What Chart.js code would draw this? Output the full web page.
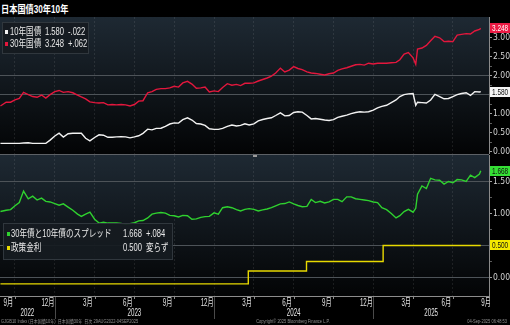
<!DOCTYPE html>
<html lang="ja">
<head>
<meta charset="utf-8">
<title>日本国債30年10年</title>
<script src="https://cdn.jsdelivr.net/npm/chart.js@4.4.1/dist/chart.umd.min.js"></script>
<style>
  html, body { margin: 0; padding: 0; background: #000; }
  body { position: relative; width: 510px; height: 325px; overflow: hidden;
         font-family: "Liberation Sans", "Noto Sans CJK JP", sans-serif; color: #e8e8e8; }
  canvas { position: absolute; left: 0; }
  #top { top: 17px; }
  #bottom { top: 155px; }
  #title { position: absolute; left: 1px; top: 1px; font-size: 10.5px; font-weight: bold;
           color: #fff; white-space: nowrap; transform: scaleX(0.78); transform-origin: 0 0; }
  .sep { position: absolute; left: 0; top: 154px; width: 489px; height: 1px; background: #5d6166; }
  .grip { position: absolute; left: 253px; top: 155px; width: 4px; height: 2px; background: #9a9a9a; }
  .box { position: absolute; background: rgba(22, 27, 32, 0.93); border: 1px solid #30373d; }
  .t { position: absolute; font-size: 10px; line-height: 12px; white-space: nowrap;
       transform: scaleX(0.76); transform-origin: 0 50%; }
  .mk { position: absolute; width: 3px; height: 4px; }
</style>
</head>
<body>
<div id="title">日本国債30年10年</div>
<canvas id="top" width="510" height="137"></canvas>
<div class="sep"></div>
<canvas id="bottom" width="510" height="170"></canvas>
<div class="grip"></div>
<div id="legends"></div>
<script>
// sample dates (about every 10 days)
const dates = [
  '2022-08-29','2022-09-11','2022-09-21', '2022-10-01','2022-10-11','2022-10-21',
  '2022-11-01','2022-11-11','2022-11-21', '2022-12-01','2022-12-11','2022-12-21',
  '2023-01-01','2023-01-11','2023-01-21', '2023-02-01','2023-02-11','2023-02-21',
  '2023-03-01','2023-03-11','2023-03-21', '2023-04-01','2023-04-11','2023-04-21',
  '2023-05-01','2023-05-11','2023-05-21', '2023-06-01','2023-06-11','2023-06-21',
  '2023-07-01','2023-07-11','2023-07-21', '2023-08-01','2023-08-11','2023-08-21',
  '2023-09-01','2023-09-11','2023-09-21', '2023-10-01','2023-10-11','2023-10-21',
  '2023-11-01','2023-11-11','2023-11-21', '2023-12-01','2023-12-11','2023-12-21',
  '2024-01-01','2024-01-11','2024-01-21', '2024-02-01','2024-02-11','2024-02-21',
  '2024-03-01','2024-03-11','2024-03-21', '2024-04-01','2024-04-11','2024-04-21',
  '2024-05-01','2024-05-11','2024-05-21', '2024-06-01','2024-06-11','2024-06-21',
  '2024-07-01','2024-07-11','2024-07-21', '2024-08-01','2024-08-11','2024-08-21',
  '2024-09-01','2024-09-11','2024-09-21', '2024-10-01','2024-10-11','2024-10-21',
  '2024-11-01','2024-11-11','2024-11-21', '2024-12-01','2024-12-11','2024-12-21',
  '2025-01-01','2025-01-11','2025-01-21', '2025-02-01','2025-02-11','2025-02-21',
  '2025-03-01','2025-03-11','2025-03-21', '2025-04-01','2025-04-07','2025-04-11','2025-04-21',
  '2025-05-01','2025-05-11','2025-05-21', '2025-06-01','2025-06-11','2025-06-21',
  '2025-07-01','2025-07-11','2025-07-21', '2025-08-01','2025-08-11','2025-08-21',
  '2025-09-01','2025-09-04'
];

// 10年国債 yield (%)
const jgb10 = [
  0.215, 0.215, 0.215, 0.215, 0.215, 0.225,
  0.230, 0.215, 0.215, 0.215, 0.215, 0.300,
  0.410, 0.485, 0.380, 0.470, 0.480, 0.480,
  0.480, 0.350, 0.280, 0.370, 0.440, 0.430,
  0.375, 0.375, 0.385, 0.390, 0.385, 0.360,
  0.385, 0.415, 0.480, 0.590, 0.570, 0.610,
  0.615, 0.665, 0.725, 0.755, 0.750, 0.840,
  0.890, 0.830, 0.740, 0.726, 0.690, 0.600,
  0.585, 0.585, 0.610, 0.665, 0.700, 0.675,
  0.690, 0.730, 0.700, 0.730, 0.810, 0.845,
  0.870, 0.890, 0.950, 1.020, 0.940, 0.950,
  1.030, 1.050, 1.040, 0.950, 0.860, 0.870,
  0.850, 0.830, 0.820, 0.840, 0.900, 0.930,
  0.960, 1.000, 1.030, 1.050, 1.040, 1.050,
  1.090, 1.150, 1.190, 1.220, 1.290, 1.360,
  1.450, 1.500, 1.520, 1.530, 1.220, 1.300, 1.290,
  1.280, 1.360, 1.510, 1.450, 1.390, 1.400,
  1.450, 1.500, 1.530, 1.550, 1.480, 1.580,
  1.570, 1.580
];

// 30年国債 yield (%)
const jgb30 = [
  1.20, 1.30, 1.30, 1.36, 1.40, 1.56,
  1.50, 1.45, 1.43, 1.49, 1.41, 1.50,
  1.58, 1.61, 1.56, 1.58, 1.55, 1.49,
  1.44, 1.39, 1.31, 1.29, 1.28, 1.29,
  1.23, 1.24, 1.23, 1.24, 1.23, 1.20,
  1.24, 1.33, 1.34, 1.55, 1.58, 1.64,
  1.66, 1.66, 1.68, 1.72, 1.70, 1.81,
  1.85, 1.78, 1.67, 1.68, 1.70, 1.57,
  1.60, 1.58, 1.69, 1.79, 1.75, 1.77,
  1.74, 1.80, 1.80, 1.81, 1.86, 1.90,
  1.94, 1.99, 2.07, 2.20, 2.10, 2.15,
  2.24, 2.19, 2.16, 2.10, 2.07, 2.06,
  2.04, 2.02, 2.05, 2.07, 2.14, 2.18,
  2.21, 2.25, 2.29, 2.30, 2.28, 2.33,
  2.31, 2.33, 2.33, 2.33, 2.34, 2.35,
  2.42, 2.57, 2.61, 2.47, 2.30, 2.70, 2.73,
  2.80, 2.92, 3.04, 3.00, 2.90, 2.91,
  2.90, 3.07, 3.09, 3.11, 3.10, 3.18,
  3.22, 3.248
];

// 30年債と10年債のスプレッド (%)
const spread = [
  1.03, 1.05, 1.06, 1.12, 1.17, 1.35,
  1.23, 1.27, 1.21, 1.24, 1.19, 1.18,
  1.155, 1.13, 1.15, 1.10, 1.05, 0.99,
  0.955, 0.99, 1.02, 0.91, 0.85, 0.865,
  0.85, 0.85, 0.85, 0.845, 0.83, 0.84,
  0.855, 0.885, 0.89, 0.93, 0.99, 1.005,
  1.015, 1.005, 0.97, 0.965, 0.945, 0.97,
  0.965, 0.91, 0.915, 0.94, 0.95, 0.955,
  1.01, 0.99, 1.09, 1.105, 1.09, 1.06,
  1.04, 1.065, 1.075, 1.065, 1.04, 1.057,
  1.07, 1.09, 1.12, 1.15, 1.155, 1.18,
  1.15, 1.125, 1.105, 1.11, 1.22, 1.17,
  1.19, 1.165, 1.18, 1.22, 1.22, 1.185,
  1.26, 1.26, 1.23, 1.22, 1.21, 1.20,
  1.18, 1.17, 1.09, 1.06, 1.00, 0.93,
  0.965, 1.03, 1.065, 1.02, 1.08, 1.30, 1.43,
  1.39, 1.55, 1.525, 1.52, 1.46, 1.50,
  1.48, 1.53, 1.525, 1.50, 1.60, 1.56,
  1.615, 1.668
];

// 政策金利: value in force from each date
const policyDates = ['2022-08-29', '2024-03-19', '2024-07-31', '2025-01-24', '2025-09-04'];
const policyRate = [-0.1, 0.1, 0.25, 0.5, 0.5];

// axis labels
const tickMonths = ['2022-09', '2022-12', '2023-03', '2023-06', '2023-09', '2023-12', '2024-03',
                    '2024-06', '2024-09', '2024-12', '2025-03', '2025-06', '2025-09'];
const years = ['2022', '2023', '2024', '2025'];
const yTicksTop = [0, 0.5, 1, 1.5, 2, 2.5, 3];
const yTicksBottom = [0, 0.5, 1, 1.5];
const gridTop = [1.5, 2];
const gridBottom = [0, 0.5, 1.5];

// day changes shown in the legends
const chg10 = '-.022', chg30 = '+.062', chgSpread = '+.084', chgPolicy = '変らず';

const WHITE = '#f2f2f2', RED = '#e3173d', GREEN = '#2fd12f', YELLOW = '#e8d900';
const GRID = '#4d5358';
const NARROW = '"Liberation Sans Narrow", "DejaVu Sans Condensed", "Liberation Sans", sans-serif';
const X_MIN = -0.13, X_MAX = 36.72;

// months since 2022-09-01
function monthPos(s) {
  const [y, m, d] = s.split('-').map(Number);
  const days = new Date(y, m, 0).getDate();
  return (y - 2022) * 12 + (m - 9) + ((d || 1) - 1) / days;
}

const points = (xs, ys) => xs.map((d, i) => ({ x: monthPos(d), y: ys[i] }));

// vertical grid at the start of Oct / Jan / Apr / Jul
const gridMonths = tickMonths.map(t => monthPos(t + '-01') + 1).filter(v => v < X_MAX);
const yearStarts = years.slice(1).map(y => monthPos(y + '-01-01'));

function narrowText(ctx, text, x, y, font, sx) {
  ctx.save();
  ctx.translate(x, y);
  ctx.scale(sx, 1);
  ctx.font = font;
  ctx.fillText(text, 0, 0);
  ctx.restore();
}

const panelBackground = {
  id: 'panelBackground',
  beforeDraw(chart) {
    const { ctx, chartArea: a } = chart;
    const g = ctx.createLinearGradient(0, a.top, 0, a.bottom);
    g.addColorStop(0, '#1e2933');
    g.addColorStop(1, '#030405');
    ctx.save();
    ctx.fillStyle = g;
    ctx.fillRect(a.left, a.top, a.right - a.left, a.bottom - a.top);
    ctx.restore();
  }
};

// last-value tags on the right axis
const valueTags = {
  id: 'valueTags',
  afterDraw(chart) {
    const { ctx, chartArea: a, scales: { y } } = chart;
    ctx.save();
    chart.data.datasets.forEach(ds => {
      const last = ds.data[ds.data.length - 1].y;
      const py = Math.round(y.getPixelForValue(last));
      ctx.fillStyle = ds.tagBg;
      ctx.fillRect(a.right + 1, py - 5, chart.width - a.right - 1, 10);
      ctx.fillStyle = ds.tagFg;
      ctx.textBaseline = 'middle';
      ctx.textAlign = 'left';
      narrowText(ctx, last.toFixed(3), a.right + 3, py + 0.5, '9px "Liberation Sans", sans-serif', 0.72);
    });
    ctx.restore();
  }
};

// month / year labels and footer under the lower panel
const timeAxis = {
  id: 'timeAxis',
  afterDraw(chart) {
    const { ctx, chartArea: a, scales: { x } } = chart;
    ctx.save();
    ctx.strokeStyle = '#8c8c8c';
    ctx.lineWidth = 1;
    ctx.beginPath();
    ctx.moveTo(0, a.bottom + 0.5);
    ctx.lineTo(a.right, a.bottom + 0.5);
    gridMonths.forEach(m => {
      const px = Math.round(x.getPixelForValue(m)) + 0.5;
      ctx.moveTo(px, a.bottom);
      ctx.lineTo(px, a.bottom + 3);
    });
    ctx.stroke();
    ctx.strokeStyle = '#4a4a4a';
    ctx.beginPath();
    yearStarts.forEach(m => {
      const px = Math.round(x.getPixelForValue(m)) + 0.5;
      ctx.moveTo(px, a.bottom + 1);
      ctx.lineTo(px, a.bottom + 23);
    });
    ctx.stroke();

    ctx.fillStyle = '#e2e2e2';
    ctx.textAlign = 'center';
    ctx.textBaseline = 'middle';
    tickMonths.forEach(t => {
      const px = x.getPixelForValue(monthPos(t + '-16'));
      narrowText(ctx, `${+t.slice(5)}月`, px, a.bottom + 7, '10px "Liberation Sans", "Noto Sans CJK JP", sans-serif', 0.62);
    });
    years.forEach(y => {
      const from = Math.max(X_MIN, monthPos(y + '-01-01'));
      const to = Math.min(X_MAX, monthPos((+y + 1) + '-01-01'));
      narrowText(ctx, y, x.getPixelForValue((from + to) / 2), a.bottom + 17.5, '10px "Liberation Sans", sans-serif', 0.62);
    });

    ctx.fillStyle = '#8f8f8f';
    ctx.textAlign = 'left';
    narrowText(ctx, 'GJGB10 Index (日本国債10年)  日本国債30年  日次 29AUG2022-04SEP2025', 1, a.bottom + 26, '5px "Liberation Sans", "Noto Sans CJK JP", sans-serif', 0.8);
    ctx.textAlign = 'center';
    narrowText(ctx, 'Copyright© 2025 Bloomberg Finance L.P.', 293, a.bottom + 26, '5px "Liberation Sans", sans-serif', 0.8);
    ctx.textAlign = 'right';
    narrowText(ctx, '04-Sep-2025 06:48:53', 507, a.bottom + 26, '5px "Liberation Sans", sans-serif', 0.8);
    ctx.restore();
  }
};

function xScale() {
  return {
    type: 'linear', min: X_MIN, max: X_MAX,
    afterBuildTicks: s => { s.ticks = gridMonths.map(v => ({ value: v })); },
    ticks: { display: false },
    grid: { color: 'rgba(255,255,255,0.09)', drawTicks: false },
    border: { display: false, dash: [2, 2] },
    afterFit: s => { s.height = 0; }
  };
}

function yScale(min, max, major, gridAt) {
  const minor = major.slice(1).map((v, i) => (v + major[i]) / 2);
  const isMajor = v => major.includes(v);
  return {
    position: 'right', min, max,
    afterBuildTicks: s => { s.ticks = major.concat(minor).sort((p, q) => p - q).map(v => ({ value: v })); },
    ticks: {
      autoSkip: false, padding: 1, color: '#d2d2d2',
      font: { family: NARROW, size: 8.5 },
      callback: v => isMajor(v) ? v.toFixed(3) : ''
    },
    grid: {
      drawTicks: true, tickLength: 3,
      color: c => (c.tick && gridAt.includes(c.tick.value)) ? GRID : 'rgba(0,0,0,0)',
      tickColor: c => (c.tick && isMajor(c.tick.value)) ? '#a0a0a0' : '#5c5c5c'
    },
    border: { display: true, color: '#8a8a8a' },
    afterFit: s => { s.width = 21; s.paddingTop = 0; s.paddingBottom = 0; }
  };
}

function options(yCfg, bottomPad) {
  return {
    responsive: false, animation: false, events: [],
    layout: { padding: { left: 0, right: 0, top: 0, bottom: bottomPad } },
    plugins: { legend: { display: false }, tooltip: { enabled: false } },
    elements: { point: { radius: 0 }, line: { borderWidth: 1.4, tension: 0 } },
    scales: { x: xScale(), y: yCfg }
  };
}

const topChart = new Chart(document.getElementById('top'), {
  type: 'line',
  data: {
    datasets: [
      { label: '10年国債', data: points(dates, jgb10), borderColor: WHITE, tagBg: '#f4f4f4', tagFg: '#111' },
      { label: '30年国債', data: points(dates, jgb30), borderColor: RED, tagBg: '#ec1a44', tagFg: '#fff' }
    ]
  },
  options: options(yScale(-0.066, 3.549, yTicksTop, gridTop), 0),
  plugins: [panelBackground, valueTags]
});

const bottomChart = new Chart(document.getElementById('bottom'), {
  type: 'line',
  data: {
    datasets: [
      { label: '30年債と10年債のスプレッド', data: points(dates, spread), borderColor: GREEN, tagBg: '#35e035', tagFg: '#111' },
      { label: '政策金利', data: points(policyDates, policyRate), borderColor: YELLOW, stepped: true, tagBg: '#f5ea00', tagFg: '#111' }
    ]
  },
  options: options(yScale(-0.29, 1.914, yTicksBottom, gridBottom), 29),
  plugins: [panelBackground, valueTags, timeAxis]
});

// legend boxes
const legends = [
  { box: [2, 22, 85, 30], cols: [5, 10, 45, 68], rows: [
    { y: 32, color: WHITE, name: topChart.data.datasets[0].label, value: jgb10[jgb10.length - 1], change: chg10 },
    { y: 43.5, color: RED, name: topChart.data.datasets[1].label, value: jgb30[jgb30.length - 1], change: chg30 }
  ] },
  { box: [3, 223, 168, 35], cols: [7, 11, 123, 146], rows: [
    { y: 233.5, color: GREEN, name: bottomChart.data.datasets[0].label, value: spread[spread.length - 1], change: chgSpread },
    { y: 248, color: YELLOW, name: bottomChart.data.datasets[1].label, value: policyRate[policyRate.length - 1], change: chgPolicy }
  ] }
];

const holder = document.getElementById('legends');
legends.forEach(lg => {
  const [l, t, w, h] = lg.box;
  const box = document.createElement('div');
  box.className = 'box';
  Object.assign(box.style, { left: l + 'px', top: t + 'px', width: w + 'px', height: h + 'px' });
  holder.appendChild(box);
  lg.rows.forEach(r => {
    const mk = document.createElement('div');
    mk.className = 'mk';
    Object.assign(mk.style, { left: lg.cols[0] + 'px', top: (r.y - 2) + 'px', background: r.color });
    holder.appendChild(mk);
    [r.name, r.value.toFixed(3), r.change].forEach((txt, i) => {
      const s = document.createElement('div');
      s.className = 't';
      s.textContent = txt;
      Object.assign(s.style, { left: lg.cols[i + 1] + 'px', top: (r.y - 6) + 'px' });
      holder.appendChild(s);
    });
  });
});
</script>
</body>
</html>
